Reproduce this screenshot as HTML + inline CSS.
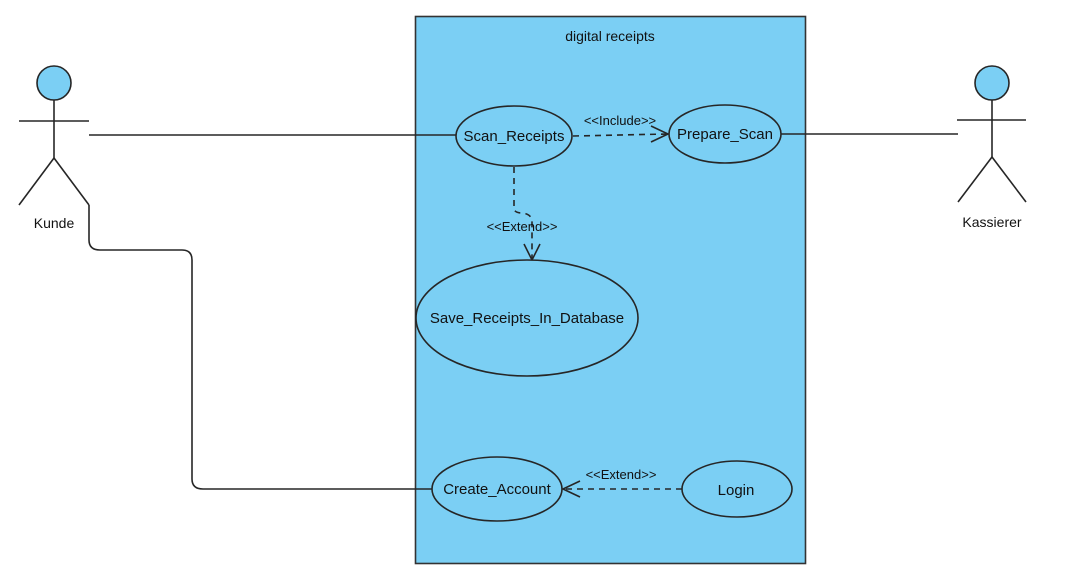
<!DOCTYPE html>
<html><head><meta charset="utf-8"><style>
html,body{margin:0;padding:0;background:#fff;width:1067px;height:580px;overflow:hidden}
svg{display:block}
text{font-family:"Liberation Sans",Arial,sans-serif;fill:#111}
</style></head><body>
<svg width="1067" height="580" viewBox="0 0 1067 580" xmlns="http://www.w3.org/2000/svg">
<rect x="415.5" y="16.5" width="390" height="547" fill="#7bcff4" stroke="#333" stroke-width="1.6"/>
<text x="610" y="41" font-size="14" text-anchor="middle">digital receipts</text>

<g stroke="#262626" stroke-width="1.6" fill="none">
<circle cx="54" cy="83" r="17" fill="#7bcff4"/>
<line x1="19" y1="121" x2="89" y2="121"/>
<line x1="54" y1="100" x2="54" y2="158"/>
<line x1="54" y1="158" x2="19" y2="205"/>
<line x1="54" y1="158" x2="89" y2="205"/>
<circle cx="992" cy="83" r="17" fill="#7bcff4"/>
<line x1="957" y1="120" x2="1026" y2="120"/>
<line x1="992" y1="100" x2="992" y2="157"/>
<line x1="992" y1="157" x2="958" y2="202"/>
<line x1="992" y1="157" x2="1026" y2="202"/>
<line x1="89" y1="135" x2="456" y2="135"/>
<line x1="781" y1="134" x2="958" y2="134"/>
<path d="M89 205 V240 Q89 250 100 250 H182 Q192 250 192 260 V479 Q192 489 203 489 H433"/>
<path d="M573 136 L668 134" stroke-dasharray="6,5"/>
<path d="M651 126 L668 134 L651 142"/>
<path d="M514 167 V208 Q514 213 522 213 Q532 214 532 222 V260" stroke-dasharray="6,5"/>
<path d="M524 244 L532 260 L540 244"/>
<path d="M682 489 H563" stroke-dasharray="6,5"/>
<path d="M580 481 L563 489 L580 497"/>
<ellipse cx="514" cy="136" rx="58" ry="30" fill="#7bcff4"/>
<ellipse cx="725" cy="134" rx="56" ry="29" fill="#7bcff4"/>
<ellipse cx="527" cy="318" rx="111" ry="58" fill="#7bcff4"/>
<ellipse cx="497" cy="489" rx="65" ry="32" fill="#7bcff4"/>
<ellipse cx="737" cy="489" rx="55" ry="28" fill="#7bcff4"/>
</g>

<text x="54" y="228" font-size="14" text-anchor="middle">Kunde</text>
<text x="992" y="227" font-size="14" text-anchor="middle">Kassierer</text>
<text x="514" y="141" font-size="15" text-anchor="middle">Scan_Receipts</text>
<text x="725" y="139" font-size="15" text-anchor="middle">Prepare_Scan</text>
<text x="527" y="323" font-size="15" text-anchor="middle">Save_Receipts_In_Database</text>
<text x="497" y="494" font-size="15" text-anchor="middle">Create_Account</text>
<text x="736" y="495" font-size="15" text-anchor="middle">Login</text>
<text x="620" y="125" font-size="13" text-anchor="middle">&lt;&lt;Include&gt;&gt;</text>
<text x="522" y="231" font-size="13" text-anchor="middle">&lt;&lt;Extend&gt;&gt;</text>
<text x="621" y="479" font-size="13" text-anchor="middle">&lt;&lt;Extend&gt;&gt;</text>
</svg>
</body></html>
